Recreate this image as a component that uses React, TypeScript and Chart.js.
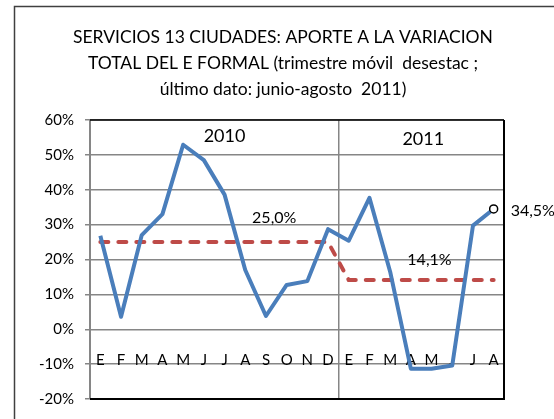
import React, { useEffect, useRef } from 'react';
import { Chart, registerables } from 'chart.js';

Chart.register(...registerables);

const meses = ['E', 'F', 'M', 'A', 'M', 'J', 'J', 'A', 'S', 'O', 'N', 'D', 'E', 'F', 'M', 'A', 'M', 'J', 'J', 'A'];
const aporte = [26.8, 3.6, 27.0, 33.0, 52.9, 48.5, 38.6, 17.0, 3.8, 12.7, 13.8, 28.7, 25.4, 37.7, 16.5, -11.3, -11.3, -10.4, 29.7, 34.5];
const promedio = [25, 25, 25, 25, 25, 25, 25, 25, 25, 25, 25, 25, 14.1, 14.1, 14.1, 14.1, 14.1, 14.1, 14.1, 14.1];
const anios = ['2010', '2011'];
const promedioTextos = ['25,0%', '14,1%'];
const ultimoTexto = '34,5%';
const titulo = [
  'SERVICIOS 13 CIUDADES: APORTE A LA VARIACION',
  'TOTAL DEL E FORMAL (trimestre móvil  desestac ;',
  'último dato: junio-agosto  2011)',
];

const FONT = 'Lato, "Open Sans", sans-serif';

const decorPlugin = {
  id: 'decor',
  beforeDraw(chart: any) {
    const { ctx, width, height } = chart;
    ctx.save();
    ctx.fillStyle = '#ffffff';
    ctx.fillRect(0, 0, width, height);
    ctx.strokeStyle = '#404040';
    ctx.lineWidth = 1.5;
    ctx.strokeRect(14.5, 6.5, width + 40, height + 40);
    // title
    ctx.fillStyle = '#000000';
    ctx.textAlign = 'center';
    ctx.textBaseline = 'middle';
    ctx.font = `17.5px ${FONT}`;
    titulo.forEach((line, i) => {
      ctx.fillText(line, 283, 37 + i * 26);
    });
    ctx.restore();
  },
  beforeDatasetsDraw(chart: any) {
    const { ctx, chartArea: a } = chart;
    ctx.save();
    ctx.strokeStyle = '#000000';
    ctx.lineWidth = 1.5;
    ctx.beginPath();
    ctx.moveTo(a.left, a.top);
    ctx.lineTo(a.right, a.top);
    ctx.stroke();
    ctx.lineWidth = 2;
    ctx.beginPath();
    ctx.moveTo(a.right, a.top);
    ctx.lineTo(a.right, a.bottom);
    ctx.lineTo(a.left, a.bottom);
    ctx.stroke();
    ctx.restore();
  },
  afterDatasetsDraw(chart: any) {
    const { ctx } = chart;
    const x = chart.scales.x;
    const y = chart.scales.y;
    ctx.save();
    ctx.fillStyle = '#000000';
    ctx.textBaseline = 'middle';
    ctx.textAlign = 'center';
    ctx.font = `18px ${FONT}`;
    ctx.fillText(anios[0], x.getPixelForValue(6), y.getPixelForValue(55.5));
    ctx.fillText(anios[1], x.getPixelForValue(15.6), y.getPixelForValue(54.5));
    ctx.font = `16px ${FONT}`;
    ctx.fillText(promedioTextos[0], x.getPixelForValue(8.4), y.getPixelForValue(32));
    ctx.fillText(promedioTextos[1], x.getPixelForValue(15.9), y.getPixelForValue(20));
    ctx.textAlign = 'left';
    const last = aporte.length - 1;
    ctx.fillText(ultimoTexto, x.getPixelForValue(last) + 17, y.getPixelForValue(aporte[last]) + 2);
    ctx.restore();
  },
};

export default function App() {
  const ref = useRef<HTMLCanvasElement | null>(null);

  useEffect(() => {
    if (!ref.current) return;
    const last = aporte.length - 1;
    const chart = new Chart(ref.current, {
      type: 'line',
      data: {
        labels: meses,
        datasets: [
          {
            label: 'Promedio',
            data: promedio,
            borderColor: '#BE4B48',
            borderWidth: 4,
            borderDash: [8, 10],
            borderCapStyle: 'round',
            pointRadius: 0,
            tension: 0,
            fill: false,
            order: 2,
          },
          {
            label: 'Aporte',
            data: aporte,
            borderColor: '#4A7EBB',
            borderWidth: 4,
            borderJoinStyle: 'round',
            pointRadius: (c: any) => (c.dataIndex === last ? 4 : 0),
            pointBackgroundColor: '#ffffff',
            pointBorderColor: '#000000',
            pointBorderWidth: 1.5,
            tension: 0,
            fill: false,
            order: 1,
          },
        ],
      },
      options: {
        responsive: false,
        animation: false,
        events: [],
        layout: { padding: { left: 14, right: 50, top: 120, bottom: 16 } },
        plugins: {
          legend: { display: false },
          tooltip: { enabled: false },
          title: { display: false },
        },
        scales: {
          x: {
            type: 'category',
            offset: true,
            position: { y: 0 },
            grid: {
              offset: true,
              drawTicks: false,
              color: (c: any) => (c.index === 12 ? '#868686' : 'rgba(0,0,0,0)'),
              lineWidth: 1.5,
            },
            border: { display: false },
            ticks: {
              color: '#000000',
              font: { family: FONT, size: 15 },
              padding: 22,
              autoSkip: false,
              maxRotation: 0,
            },
          },
          y: {
            min: -20,
            max: 60,
            afterFit: (s: any) => {
              s.width = 76;
            },
            grid: {
              color: '#868686',
              lineWidth: 1.5,
              tickLength: 5,
              drawTicks: true,
            },
            border: { color: '#868686', width: 2 },
            ticks: {
              stepSize: 10,
              color: '#000000',
              padding: 11,
              font: { family: FONT, size: 15 },
              callback: (v: any) => `${v}%`,
            },
          },
        },
      },
      plugins: [decorPlugin],
    });
    return () => chart.destroy();
  }, []);

  return (
    <div style={{ position: 'absolute', left: 0, top: 0, width: 554, height: 419, overflow: 'hidden' }}>
      <canvas ref={ref} width={554} height={419} style={{ display: 'block' }} />
    </div>
  );
}
